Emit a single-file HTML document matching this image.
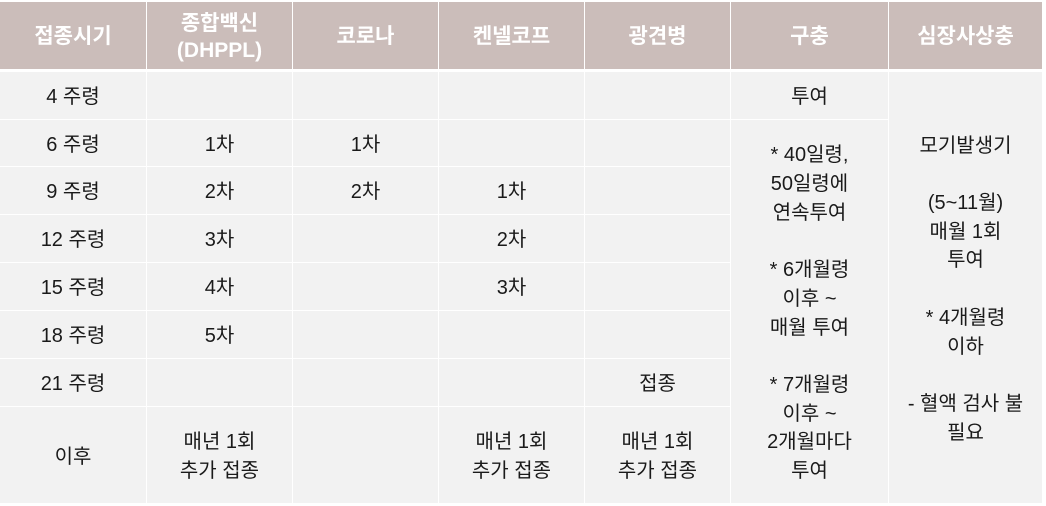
<!DOCTYPE html>
<html><head><meta charset="utf-8"><style>
body{margin:0;width:1046px;height:506px;background:#fff;position:relative;overflow:hidden;font-family:"Liberation Sans","Noto Sans CJK KR",sans-serif;}
.c{position:absolute;display:flex;align-items:center;justify-content:center;text-align:center;box-sizing:border-box;background:#f2f2f2;color:#1a1a1a;font-size:20px;line-height:28.7px;white-space:pre-line;padding-top:4px;}
.h{background:#cbbdba;color:#fff;font-weight:bold;font-size:21px;line-height:27px;padding-top:2px;}
</style></head><body>
<script>
const cols=[[0,146],[147,292],[293,438],[439,584],[585,730],[731,888],[889,1042]];
const rowsY=[[72,119],[120,166],[167,214],[215,262],[263,310],[311,358],[359,406],[407,503]];
const headers=["접종시기","종합백신\n(DHPPL)","코로나","켄넬코프","광견병","구충","심장사상충"];
const headerNames=["header-period","header-dhppl","header-corona","header-kennel-cough","header-rabies","header-deworming","header-heartworm"];
const body=[
["4 주령","","","","","투여"],
["6 주령","1차","1차","","",null],
["9 주령","2차","2차","1차","",null],
["12 주령","3차","","2차","",null],
["15 주령","4차","","3차","",null],
["18 주령","5차","","","",null],
["21 주령","","","","접종",null],
["이후","매년 1회\n추가 접종","","매년 1회\n추가 접종","매년 1회\n추가 접종",null]];
function cell(x0,x1,y0,y1,txt,cls,name){
 const d=document.createElement('div');
 d.className='c'+(cls?' '+cls:'');
 d.style.left=x0+'px';d.style.top=y0+'px';d.style.width=(x1-x0)+'px';d.style.height=(y1-y0)+'px';
 d.textContent=txt;
 
 
 document.body.appendChild(d);
}
headers.forEach((h,i)=>cell(cols[i][0],cols[i][1],2,69,h,'h',headerNames[i]));
body.forEach((r,ri)=>{
 r.forEach((t,ci)=>{ if(t===null)return;
  cell(cols[ci][0],cols[ci][1],rowsY[ri][0],rowsY[ri][1],t,'','cell-r'+(ri+1)+'-c'+(ci+1));
 });
});
cell(cols[5][0],cols[5][1],120,503,"* 40일령,\n50일령에\n연속투여\n\n* 6개월령\n이후 ~\n매월 투여\n\n* 7개월령\n이후 ~\n2개월마다\n투여",'','deworming-notes');
cell(cols[6][0],cols[6][1],72,503,"모기발생기\n\n(5~11월)\n매월 1회\n투여\n\n* 4개월령\n이하\n\n- 혈액 검사 불\n필요",'','heartworm-notes');
</script>
</body></html>
